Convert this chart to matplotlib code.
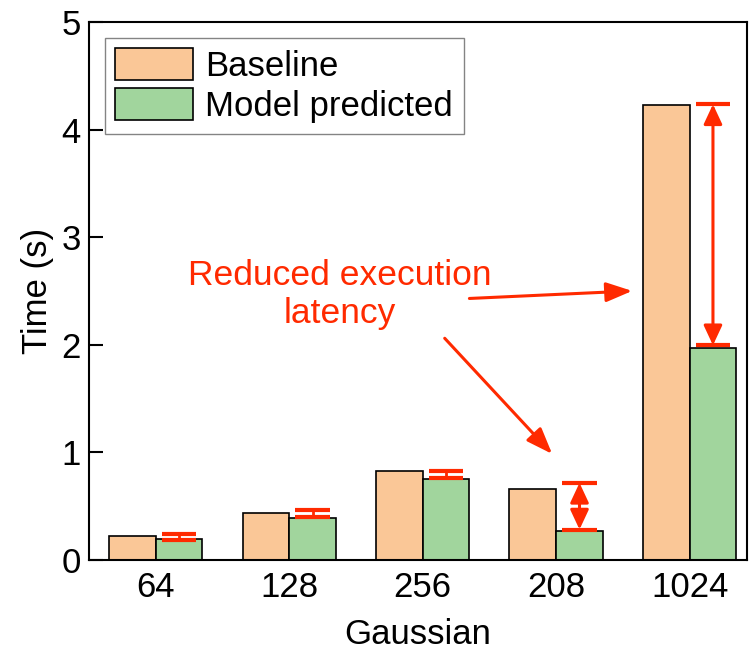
import numpy as np
import matplotlib.pyplot as plt

plt.rcParams['font.family'] = ['Liberation Sans', 'DejaVu Sans']

categories = ['64', '128', '256', '208', '1024']
baseline = [0.226, 0.437, 0.83, 0.663, 4.23]
model = [0.19, 0.393, 0.753, 0.272, 1.967]
# red marker ranges (top, bottom) drawn over the model bars
gap_top = [0.24, 0.465, 0.827, 0.716, 4.235]
gap_bot = [0.185, 0.40, 0.765, 0.282, 1.995]

c_base = '#FAC797'
c_model = '#A1D59D'
red = '#FF2A00'

fig = plt.figure(figsize=(7.5, 6.61), dpi=100)
ax = fig.add_axes([0.1187, 0.153, 0.8773, 0.8137])

x = np.arange(len(categories))
w = 0.35
ax.bar(x - w / 2, baseline, w, color=c_base, edgecolor='black', linewidth=1.2, label='Baseline')
ax.bar(x + w / 2, model, w, color=c_model, edgecolor='black', linewidth=1.2, label='Model predicted')

cap = 0.13
for i in range(len(categories)):
    xc = x[i] + w / 2
    ax.hlines([gap_top[i], gap_bot[i]], xc - cap, xc + cap, colors=red, linewidth=3, zorder=4)
    if gap_top[i] - gap_bot[i] > 0.3:
        ax.annotate('', xy=(xc, gap_top[i]), xytext=(xc, gap_bot[i]),
                    arrowprops=dict(arrowstyle='<|-|>,head_length=0.6,head_width=0.28',
                                    color=red, lw=2.2, shrinkA=0, shrinkB=0,
                                    mutation_scale=20), zorder=4)
    else:
        ax.vlines(xc, gap_bot[i], gap_top[i], colors=red, linewidth=2, zorder=4)

ax.text(1.38, 2.47, 'Reduced execution\nlatency', color=red, fontsize=25.5,
        ha='center', va='center', linespacing=1.2)
arrow = dict(arrowstyle='-|>,head_length=0.8,head_width=0.3', color=red, lw=2.2,
             shrinkA=0, shrinkB=0, mutation_scale=20)
ax.annotate('', xy=(3.57, 2.50), xytext=(2.35, 2.43), arrowprops=arrow)
ax.annotate('', xy=(2.97, 0.985), xytext=(2.165, 2.06), arrowprops=arrow)

ax.set_xlim(-0.5, 4.43)
ax.set_ylim(0, 5)
ax.set_xticks(x)
ax.set_xticklabels(categories)
ax.set_yticks([0, 1, 2, 3, 4, 5])
ax.tick_params(axis='x', length=0, labelsize=25, pad=8)
ax.tick_params(axis='y', direction='in', length=10, width=1.5, labelsize=25, pad=6)
for s in ax.spines.values():
    s.set_linewidth(1.5)

ax.set_xlabel('Gaussian', fontsize=25, labelpad=10)
ax.set_ylabel('Time (s)', fontsize=25, labelpad=5)

leg = ax.legend(loc='upper left', fontsize=25, frameon=True, fancybox=False,
                edgecolor='#666666', handlelength=2.25, handleheight=1.05,
                borderaxespad=0.45, borderpad=0.3, labelspacing=0.15, handletextpad=0.35)
leg.get_frame().set_linewidth(1.0)

fig.savefig('out.png', dpi=100)
